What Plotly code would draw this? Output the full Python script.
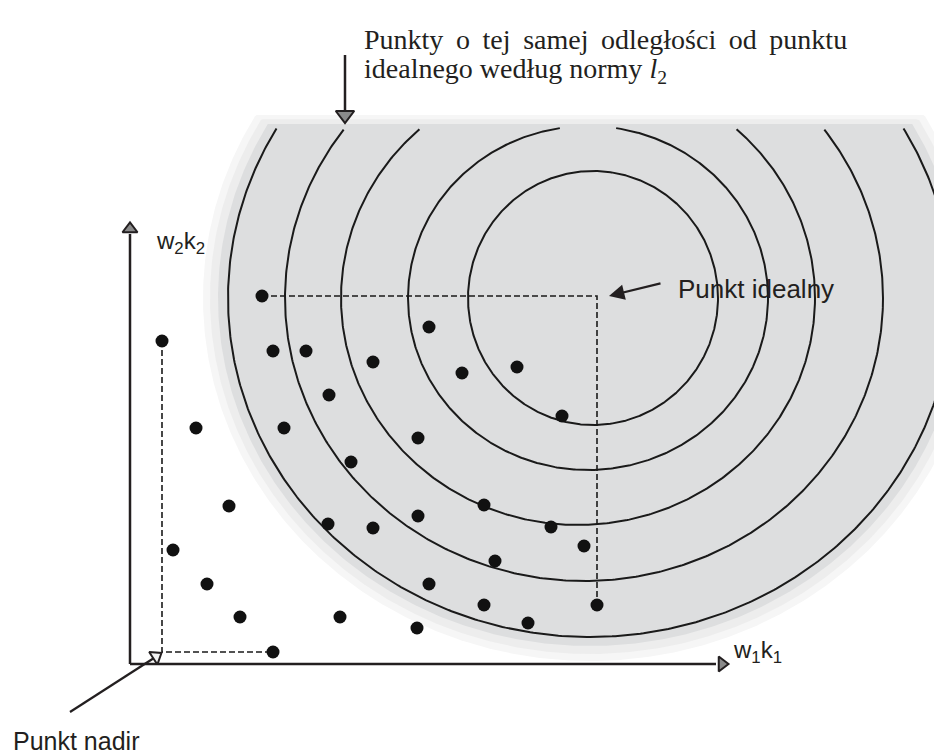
import numpy as np
import plotly.graph_objects as go

# ---- data (units: 1 unit = 10 px of the original drawing, origin at axis corner) ----
dots_x = [13.2, 3.2, 29.9, 14.3, 17.6, 24.3, 33.2, 38.7, 19.9, 43.2, 6.6, 15.4, 28.8, 22.1,
          9.9, 35.4, 19.8, 24.3, 28.8, 42.1, 4.3, 45.4, 36.5, 7.7, 29.9, 11.0, 21.0, 28.7,
          35.4, 39.8, 46.7, 14.3]
dots_y = [36.8, 32.3, 33.7, 31.3, 31.3, 30.2, 29.1, 29.7, 26.9, 24.8, 23.6, 23.6, 22.6, 20.2,
          15.8, 15.9, 14.0, 13.6, 14.8, 13.7, 11.4, 11.8, 10.3, 8.0, 8.0, 4.7, 4.7, 3.6,
          5.9, 4.1, 5.9, 1.2]

# iso-distance rings (l2 norm) around the ideal point
ring_cx = [46.3, 45.8, 44.8, 45.4, 46.0]
ring_cy = [36.6, 36.6, 36.6, 36.6, 36.6]
ring_rx = [12.5, 18.0, 23.7, 29.9, 36.2]
ring_ry = [12.7, 17.2, 22.7, 28.3, 33.9]

label_title1 = "Punkty o tej samej odległości od punktu"
label_title2 = "idealnego według normy <i>l</i><sub>2</sub>"
label_ideal = "Punkt idealny"
label_nadir = "Punkt nadir"
label_x = "w<sub>1</sub>k<sub>1</sub>"
label_y = "w<sub>2</sub>k<sub>2</sub>"

# ---- derived ----
ideal = (max(dots_x), max(dots_y))
nadir = (min(dots_x), min(dots_y))
TOP = 53.6  # clip of the shaded area / rings

# page has an 8 px body margin: the figure covers page pixels 8..942 x 8..755
X0, X1 = -12.2, 81.2
Y0, Y1 = -9.1, 65.6

fig = go.Figure()

t = np.linspace(0, 2 * np.pi, 721)

# shaded area (soft halo + main fill)
for extra, col in [(1.5, "#f6f6f6"), (0.8, "#ededed"), (0.0, "#dddedf")]:
    gx = 46.0 + (37.2 + extra) * np.cos(t)
    gy = 36.6 + (34.8 + extra) * np.sin(t)
    gy = np.minimum(gy, TOP + 0.4 + extra * 0.6)
    fig.add_trace(go.Scatter(x=gx, y=gy, mode="lines", fill="toself", fillcolor=col,
                             line=dict(width=0, color=col), hoverinfo="skip", showlegend=False))

# rings
for cx, cy, rx, ry in zip(ring_cx, ring_cy, ring_rx, ring_ry):
    rx_ = cx + rx * np.cos(t)
    ry_ = cy + ry * np.sin(t)
    xs, ys = [], []
    for a, b in zip(rx_, ry_):
        if b <= TOP:
            xs.append(a); ys.append(b)
        else:
            if xs and xs[-1] is not None:
                xs.append(None); ys.append(None)
    fig.add_trace(go.Scatter(x=xs, y=ys, mode="lines", line=dict(color="#1a1a1a", width=2),
                             hoverinfo="skip", showlegend=False))

dash = dict(color="#1a1a1a", width=1.6, dash="6px,3px")
# dashed lines to the ideal point
fig.add_trace(go.Scatter(x=[dots_x[0], ideal[0], ideal[0]], y=[ideal[1], ideal[1], dots_y[30]],
                         mode="lines", line=dash, hoverinfo="skip", showlegend=False))
# dashed lines to the nadir point
fig.add_trace(go.Scatter(x=[nadir[0], nadir[0], dots_x[31]], y=[dots_y[1], nadir[1], nadir[1]],
                         mode="lines", line=dash, hoverinfo="skip", showlegend=False))

# axes with arrows
axis_col = "#231f20"
fig.add_trace(go.Scatter(x=[0, 0, None, 0, 58.6], y=[43.0, 0, None, 0, 0], mode="lines",
                         line=dict(color=axis_col, width=2.5), hoverinfo="skip", showlegend=False))
fig.add_trace(go.Scatter(x=[0, 59.2], y=[43.5, 0], mode="markers",
                         marker=dict(symbol=["triangle-up", "triangle-right"], size=13,
                                     color="#8a8a8a", line=dict(color=axis_col, width=2)),
                         hoverinfo="skip", showlegend=False))

# points
fig.add_trace(go.Scatter(x=dots_x, y=dots_y, mode="markers",
                         marker=dict(size=13, color="#111111"), hoverinfo="skip", showlegend=False))

# arrow from title to outer ring
fig.add_trace(go.Scatter(x=[21.5, 21.5], y=[60.9, 55.4], mode="lines",
                         line=dict(color=axis_col, width=2.5), hoverinfo="skip", showlegend=False))
fig.add_trace(go.Scatter(x=[21.5], y=[54.9], mode="markers",
                         marker=dict(symbol="triangle-down", size=16, color="#8a8a8a",
                                     line=dict(color=axis_col, width=2)),
                         hoverinfo="skip", showlegend=False))

# arrow to nadir
fig.add_trace(go.Scatter(x=[-6.0, 2.4], y=[-4.8, 0.6], mode="lines",
                         line=dict(color=axis_col, width=2.2), hoverinfo="skip", showlegend=False))
fig.add_trace(go.Scatter(x=[2.6], y=[0.75], mode="markers",
                         marker=dict(symbol="triangle-up", size=13, angle=57, color="#f2f2f2",
                                     line=dict(color=axis_col, width=2)),
                         hoverinfo="skip", showlegend=False))

sans = "Liberation Sans, Arial, sans-serif"
serif = "Liberation Serif, Times New Roman, serif"
# first line of the caption is justified in the original: widen its word gaps
title1_justified = label_title1.replace(" ", " \u2009")
annotations = [
    dict(x=ideal[0] + 1.2, y=ideal[1], ax=53.2, ay=38.1, xref="x", yref="y", axref="x", ayref="y",
         text="", showarrow=True, arrowhead=2, arrowsize=1.4, arrowwidth=2.2, arrowcolor=axis_col),
    dict(x=54.6, y=37.5, text=label_ideal, showarrow=False, xanchor="left", yanchor="middle",
         font=dict(family=sans, size=26, color="#231f20")),
    dict(x=-11.9, y=-7.7, text=label_nadir, showarrow=False, xanchor="left", yanchor="middle",
         font=dict(family=sans, size=25, color="#231f20")),
    dict(x=2.4, y=42.2, text=label_y, showarrow=False, xanchor="left", yanchor="middle",
         font=dict(family=sans, size=24, color="#231f20")),
    dict(x=60.1, y=1.3, text=label_x, showarrow=False, xanchor="left", yanchor="middle",
         font=dict(family=sans, size=24, color="#231f20")),
    dict(x=23.2, y=62.5, text=title1_justified, showarrow=False, xanchor="left", yanchor="middle",
         font=dict(family=serif, size=28, color="#231f20")),
    dict(x=23.2, y=59.4, text=label_title2, showarrow=False, xanchor="left", yanchor="middle",
         font=dict(family=serif, size=28, color="#231f20")),
]

fig.update_layout(
    width=934, height=747, margin=dict(l=0, r=0, t=0, b=0),
    paper_bgcolor="white", plot_bgcolor="white",
    xaxis=dict(range=[X0, X1], visible=False, fixedrange=True),
    yaxis=dict(range=[Y0, Y1], visible=False, fixedrange=True),
    annotations=annotations, showlegend=False,
)

fig.write_html("out.html")
